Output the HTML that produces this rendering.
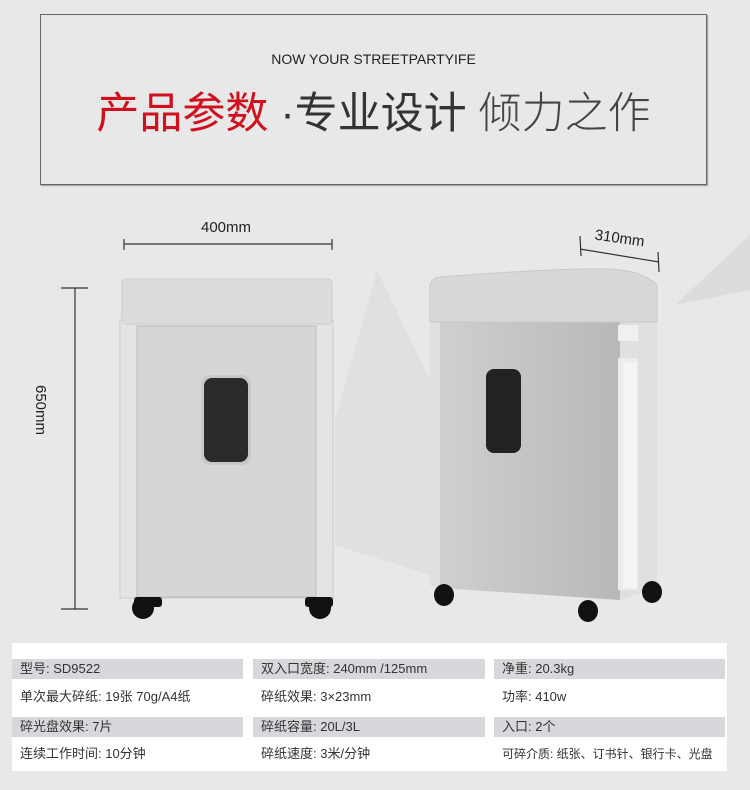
<!DOCTYPE html>
<html><head><meta charset="utf-8"><style>
body{margin:0;width:750px;height:790px;background:#e8e8e8;overflow:hidden;position:relative;font-family:"Liberation Sans","Noto Sans CJK SC",sans-serif;}
.box{position:absolute;left:40px;top:14px;width:665px;height:169px;border:1px solid #666;box-shadow:1px 1px 1px #999;}
.en{position:absolute;top:36px;left:0;width:100%;text-align:center;font-size:14px;color:#222;}
.ti{position:absolute;top:64px;left:0;width:100%;text-align:center;font-size:43px;color:#333;white-space:nowrap;}
.tab{position:absolute;left:12px;top:643px;width:715px;height:128px;background:#fff;}
.c{position:absolute;font-size:13px;color:#333;height:20px;line-height:20px;padding-left:8px;box-sizing:border-box;white-space:nowrap;}
.g{background:#d8d8dc;}
</style></head><body>
<svg width="750" height="790" style="position:absolute;left:0;top:0">
<polygon points="335,420 377,270 430,380 430,575 335,545" fill="#e0e0e0"/>
<polygon points="675,305 750,235 750,290" fill="#dcdcdc"/>
<g stroke="#333" stroke-width="1.2" fill="none">
<line x1="124" y1="244" x2="332" y2="244"/><line x1="124" y1="239" x2="124" y2="250"/><line x1="332" y1="239" x2="332" y2="250"/>
<line x1="75" y1="288" x2="75" y2="609"/><line x1="61" y1="288" x2="88" y2="288"/><line x1="61" y1="609" x2="88" y2="609"/>
<line x1="580" y1="249" x2="659" y2="262"/><line x1="580" y1="236" x2="581" y2="256"/><line x1="658" y1="252" x2="659" y2="272"/>
</g>
<text x="226" y="232" font-size="15" text-anchor="middle" fill="#222" font-family="Liberation Sans">400mm</text>
<text x="619" y="243" font-size="15" text-anchor="middle" fill="#222" font-family="Liberation Sans" transform="rotate(8 619 243)">310mm</text>
<text x="0" y="0" font-size="15" fill="#222" font-family="Liberation Sans" transform="translate(36,385) rotate(90)">650mm</text>
<rect x="120" y="320" width="213" height="278" fill="#e4e4e4" stroke="#ccc"/>
<rect x="122" y="279" width="210" height="45" rx="4" fill="#dcdcdc" stroke="#ccc"/>
<rect x="137" y="326" width="179" height="271" fill="#d6d6d6" stroke="#bbb"/>
<rect x="201" y="375" width="50" height="90" rx="9" fill="#c8c8c8"/>
<rect x="204" y="378" width="44" height="84" rx="8" fill="#2a2a2a"/>
<g fill="#111"><circle cx="143" cy="608" r="11"/><circle cx="320" cy="608" r="11"/><rect x="134" y="597" width="28" height="10" rx="3"/><rect x="305" y="597" width="28" height="10" rx="3"/></g>
<defs><linearGradient id="rb" x1="0" x2="1"><stop offset="0" stop-color="#cfcfcf"/><stop offset="1" stop-color="#b8b8b8"/></linearGradient></defs>
<path d="M430,320 L657,320 L657,588 L620,600 L430,586 Z" fill="#e0e0e0"/>
<path d="M440,322 L620,322 L620,600 L440,588 Z" fill="url(#rb)"/>
<path d="M430,285 Q432,278 440,277 Q560,268 600,269 Q640,268 657,285 L657,322 L430,322 Z" fill="#d8d8d8" stroke="#c8c8c8"/>
<rect x="618" y="325" width="20" height="16" fill="#f0f0f0"/>
<rect x="618" y="358" width="20" height="232" fill="#ececec"/>
<rect x="623" y="362" width="14" height="226" fill="#f4f4f4"/>
<rect x="486" y="369" width="35" height="84" rx="8" fill="#222"/>
<g fill="#111"><ellipse cx="444" cy="595" rx="10" ry="11"/><ellipse cx="588" cy="611" rx="10" ry="11"/><ellipse cx="652" cy="592" rx="10" ry="11"/></g>
</svg>
<div class="box"><div class="en">NOW YOUR STREETPARTYIFE</div>
<div class="ti"><span style="color:#d0101c">产品参数</span> ·专业设计 <span style="color:#444;font-weight:300">倾力之作</span></div></div>
<div class="tab"></div>
<div class="c g" style="left:12px;top:659px;width:231px">型号: SD9522</div>
<div class="c g" style="left:253px;top:659px;width:232px">双入口宽度: 240mm /125mm</div>
<div class="c g" style="left:494px;top:659px;width:231px">净重: 20.3kg</div>
<div class="c" style="left:12px;top:687px">单次最大碎纸: 19张 70g/A4纸</div>
<div class="c" style="left:253px;top:687px">碎纸效果: 3×23mm</div>
<div class="c" style="left:494px;top:687px">功率: 410w</div>
<div class="c g" style="left:12px;top:717px;width:231px">碎光盘效果: 7片</div>
<div class="c g" style="left:253px;top:717px;width:232px">碎纸容量: 20L/3L</div>
<div class="c g" style="left:494px;top:717px;width:231px">入口: 2个</div>
<div class="c" style="left:12px;top:744px">连续工作时间: 10分钟</div>
<div class="c" style="left:253px;top:744px">碎纸速度: 3米/分钟</div>
<div class="c" style="left:494px;top:744px;font-size:12px">可碎介质: 纸张、订书针、银行卡、光盘</div>
</body></html>
